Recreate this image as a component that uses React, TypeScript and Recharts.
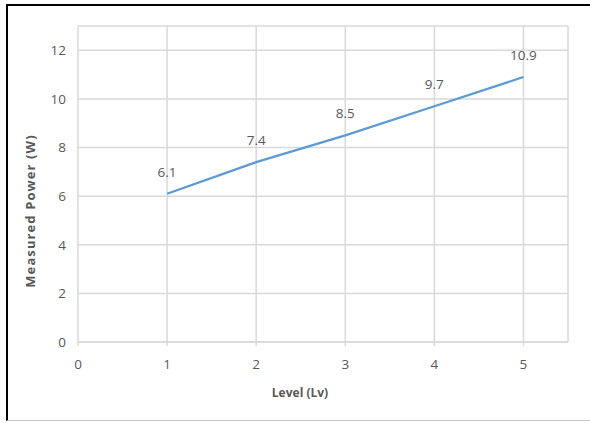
import React from "react";
import { LineChart, Line, XAxis, YAxis, CartesianGrid, LabelList, Label } from "recharts";

const levels = [1, 2, 3, 4, 5];
const power = [6.1, 7.4, 8.5, 9.7, 10.9];
const xTicks = [0, 1, 2, 3, 4, 5];
const yTicks = [0, 2, 4, 6, 8, 10, 12];

const data = levels.map((lv, i) => ({ level: lv, power: power[i] }));

const FONT = "'Open Sans', 'Liberation Sans', sans-serif";
const TXT = "#595959";
const GRID = "#d9d9d9";

export default function App() {
  return (
    <div
      style={{
        position: "absolute",
        left: 0,
        top: 0,
        width: 590,
        height: 423,
        background: "#fff",
        fontFamily: FONT,
      }}
    >
      <div
        style={{
          position: "absolute",
          left: 6,
          top: 4,
          width: 584,
          height: 417,
          borderTop: "2px solid #000",
          borderLeft: "2px solid #000",
          borderBottom: "1px solid #c8c8c8",
          boxSizing: "border-box",
        }}
      />
      <div style={{ position: "absolute", left: 0, top: 0 }}>
        <LineChart
          width={590}
          height={423}
          data={data}
          margin={{ top: 26, right: 22, bottom: 51, left: 0 }}
        >
          <CartesianGrid stroke={GRID} strokeWidth={1.5} horizontal={true} vertical={true} />
          <XAxis
            dataKey="level"
            type="number"
            scale="linear"
            domain={[0, 5.5]}
            allowDataOverflow={true}
            ticks={xTicks}
            interval={0}
            height={30}
            axisLine={{ stroke: GRID, strokeWidth: 1.5 }}
            tickLine={{ stroke: GRID, strokeWidth: 1.5 }}
            tickSize={4}
            tickMargin={13}
            tick={{ fill: TXT, fontSize: 13.5, fontFamily: FONT }}
          >
            <Label
              value="Level (Lv)"
              position="bottom"
              offset={16}
              dx={-23}
              style={{ fill: TXT, fontSize: 12, fontWeight: 700, fontFamily: FONT }}
            />
          </XAxis>
          <YAxis
            type="number"
            domain={[0, 13]}
            allowDataOverflow={true}
            ticks={yTicks}
            width={78}
            axisLine={false}
            tickLine={false}
            tickSize={6}
            tickMargin={6}
            tick={{ fill: TXT, fontSize: 13.5, fontFamily: FONT }}
          >
            <Label
              value="Measured Power (W)"
              angle={-90}
              position="insideLeft"
              offset={30}
              dy={27}
              style={{
                textAnchor: "middle",
                fill: TXT,
                fontSize: 13,
                fontWeight: 700,
                letterSpacing: 1.1,
                fontFamily: FONT,
              }}
            />
          </YAxis>
          <Line
            type="linear"
            dataKey="power"
            stroke="#5b9bd5"
            strokeWidth={2.25}
            dot={false}
            activeDot={false}
            isAnimationActive={false}
          >
            <LabelList
              dataKey="power"
              position="top"
              offset={17}
              style={{ fill: TXT, fontSize: 13.5, fontFamily: FONT }}
            />
          </Line>
        </LineChart>
      </div>
    </div>
  );
}
